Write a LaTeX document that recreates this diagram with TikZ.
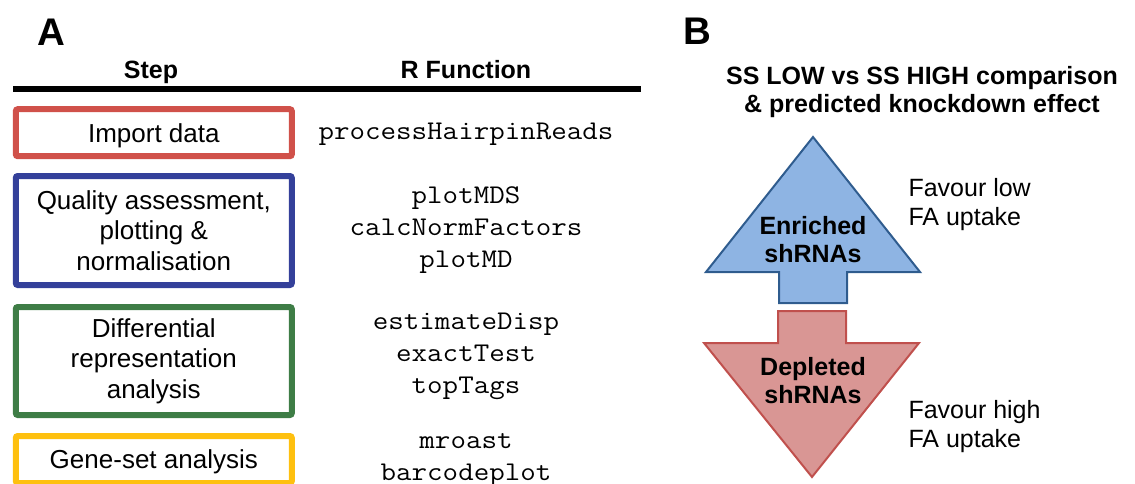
\documentclass[tikz,border=0pt]{standalone}
\usepackage{fontspec}
\setmainfont{Liberation Sans}
\newfontfamily\rcode{Latin Modern Mono}[FakeStretch=1.115]
\usepackage{xcolor}
\usetikzlibrary{positioning}
\definecolor{stepRed}{HTML}{D0514A}
\definecolor{stepBlue}{HTML}{34409A}
\definecolor{stepGreen}{HTML}{3E7D46}
\definecolor{stepGold}{HTML}{FEC00F}
\definecolor{upFill}{HTML}{8EB4E3}
\definecolor{upLine}{HTML}{2F5C8E}
\definecolor{downFill}{HTML}{D99694}
\definecolor{downLine}{HTML}{C0504D}

\begin{document}
\begin{tikzpicture}[x=1pt, y=-1pt,
		stepbox/.style={draw, line width=6pt, rounded corners=2pt, minimum width=276pt, align=center, font=\fontsize{26}{30.5}\selectfont},
		rfun/.style={align=center, font=\fontsize{27}{32}\selectfont\rcode},
		panel/.style={font=\fontsize{38.5}{38.5}\selectfont\bfseries, anchor=base west, inner sep=0pt},
		colhead/.style={font=\fontsize{25}{25}\selectfont\bfseries, anchor=base},
		arrowtext/.style={align=center, font=\fontsize{25}{28}\selectfont\bfseries},
		effect/.style={align=left, anchor=west, font=\fontsize{25}{29}\selectfont}]
		\useasboundingbox (0,0) rectangle (1135,484);
		% panel A
		\node[panel] (labA) at (37,46) {A};
		\node[colhead] (stepHead) at (151,78.5) {Step};
		\node[colhead] (funHead) at (466,78.5) {R Function};
		\draw[line width=6pt] (13,89) -- (641,89);
		\node[stepbox, draw=stepRed, minimum height=47pt, text depth=0pt] (import) at (153.8,132.7) {Import data};
		\node[stepbox, draw=stepBlue, minimum height=109pt] (quality) at (153.8,230.5) {Quality assessment,\\plotting \&\\normalisation};
		\node[stepbox, draw=stepGreen, minimum height=108pt] (diffrep) at (153.8,361) {Differential\\representation\\analysis};
		\node[stepbox, draw=stepGold, minimum height=47pt, text depth=0pt] (geneset) at (153.8,459.5) {Gene-set analysis};
		\node[rfun] (funImport) at (466,134) {processHairpinReads};
		\node[rfun] (funQuality) at (466,230.5) {plotMDS\\calcNormFactors\\plotMD};
		\node[rfun] (funDiff) at (466,356.5) {estimateDisp\\exactTest\\topTags};
		\node[rfun] (funGene) at (466,460.5) {mroast\\barcodeplot};
		% panel B
		\node[panel] (labB) at (683,45) {B};
		\node[arrowtext] (title) at (922,92.5) {SS LOW vs SS HIGH comparison\\\& predicted knockdown effect};
		\draw[fill=upFill, draw=upLine, line width=2pt] (813,137) -- (920,272) -- (847,272) -- (847,303) -- (779,303) -- (779,272) -- (706,272) -- cycle;
		\draw[fill=downFill, draw=downLine, line width=2pt] (778,311) -- (846,311) -- (846,343) -- (919,343) -- (812,477) -- (704,343) -- (778,343) -- cycle;
		\node[arrowtext] (enriched) at (813,239.5) {Enriched\\shRNAs};
		\node[arrowtext] (depleted) at (813,380.5) {Depleted\\shRNAs};
		\node[effect] (favLow) at (905,205) {Favour low\\FA uptake};
		\node[effect] (favHigh) at (905,427) {Favour high\\FA uptake};
	\end{tikzpicture}
\end{document}
